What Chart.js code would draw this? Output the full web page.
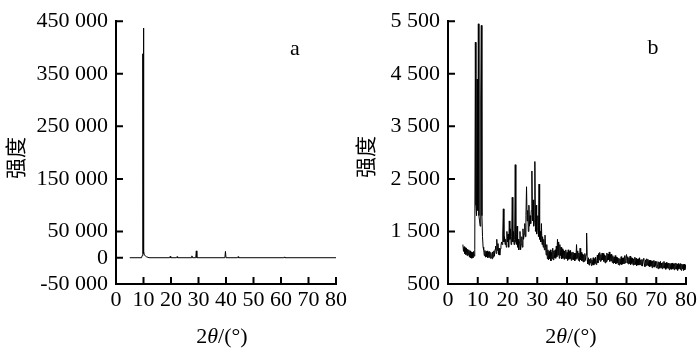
<!DOCTYPE html>
<html>
<head>
<meta charset="utf-8">
<script src="https://cdn.jsdelivr.net/npm/chart.js@4"></script>
<style>
  body { margin: 0; background: #fff; }
  .panel { position: absolute; top: 0; width: 350px; height: 350px; }
</style>
</head>
<body>
<div class="panel" style="left:0"><canvas id="chartA" width="350" height="350"></canvas></div>
<div class="panel" style="left:350px"><canvas id="chartB" width="350" height="350"></canvas></div>
<script>
// panel a: sharp peaks on a flat baseline
const aTheta = [5, 9.3, 9.5, 9.7, 9.8, 9.9, 10.0, 10.1, 10.3, 10.6, 11, 12,
    19.5, 19.7, 19.9, 22, 22.2, 22.4, 27.4, 27.6, 27.8, 29.0, 29.2, 29.4,
    39.6, 39.8, 40.0, 44.2, 44.4, 44.6, 61, 61.2, 61.4, 80];
const aIntensity = [0, 0, 4000, 15000, 388000, 8000, 437000, 12000, 5000, 4000, 2000, 0,
    0, 2500, 0, 0, 2000, 0, 0, 3500, 0, 0, 13000, 0,
    0, 12000, 0, 0, 2000, 0, 0, 1500, 0, 0];
const aTicks = [-50000, 0, 50000, 150000, 250000, 350000, 450000];

// panel b: noisy pattern, one reading every 0.2 degrees from 5 to 80
const bStart = 5;
const bStep = 0.2;
const bIntensity = [
    1250, 1120, 1210, 1080, 1190,   // 5
    1060, 1180, 1040, 1160, 1050,   // 6
    1150, 1010, 1130, 1000, 1110,   // 7
    990, 1100, 1000, 1120, 1030,    // 8
    1150, 5100, 2000, 1800, 4400,   // 9
    1900, 5450, 1800, 1700, 1600,   // 10
    4000, 5420, 1800, 1400, 1200,   // 11
    1150, 1040, 1140, 1010, 1120,   // 12
    1020, 1130, 1000, 1110, 1010,   // 13
    1120, 990, 1100, 1020, 980,     // 14
    1110, 1010, 1130, 1030, 1160,   // 15
    1220, 1080, 1350, 1140, 1270,   // 16
    1060, 1180, 1050, 1170, 1230,   // 17
    1300, 1250, 1450, 1930, 1300,   // 18
    1400, 1250, 1350, 1200, 1500,   // 19
    1300, 1450, 1200, 1700, 1350,   // 20
    1550, 1250, 1400, 2150, 1300,   // 21
    1500, 1250, 1350, 2770, 1300,   // 22
    1250, 1600, 1200, 1350, 1150,   // 23
    1300, 1500, 1150, 1250, 1400,   // 24
    1200, 1550, 1350, 1450, 1650,   // 25
    1400, 1800, 2350, 1700, 1900,   // 26
    1500, 2000, 1600, 1800, 1650,   // 27
    1900, 2650, 1700, 2100, 1600,   // 28
    1700, 2830, 1500, 2000, 1450,   // 29
    1550, 1800, 1400, 2400, 1350,   // 30
    1500, 1300, 1650, 1250, 1400,   // 31
    1200, 1350, 1150, 1430, 1200,   // 32
    1050, 1250, 980, 1150, 960,     // 33
    1120, 980, 1150, 940, 1100,     // 34
    980, 1180, 960, 1130, 1000,     // 35
    1150, 990, 1220, 1020, 1350,    // 36
    1050, 1300, 990, 1250, 1040,    // 37
    1200, 980, 1170, 990, 1140,     // 38
    970, 1130, 990, 1150, 980,      // 39
    1100, 950, 1150, 970, 1120,     // 40
    980, 1140, 950, 1100, 970,      // 41
    1110, 960, 1090, 940, 1080,     // 42
    970, 1250, 990, 1130, 950,      // 43
    1090, 930, 1180, 960, 1100,     // 44
    940, 1070, 920, 1060, 930,      // 45
    1080, 950, 1050, 1470, 960,     // 46
    880, 1000, 860, 970, 900,       // 47
    990, 850, 960, 870, 1000,       // 48
    860, 980, 890, 1010, 870,       // 49
    940, 1050, 900, 1080, 960,      // 50
    1100, 930, 1060, 950, 1090,     // 51
    960, 1080, 930, 1050, 900,      // 52
    1040, 920, 1090, 950, 1070,     // 53
    960, 1110, 930, 1060, 940,      // 54
    1070, 910, 1040, 890, 1010,     // 55
    900, 1040, 880, 1010, 900,      // 56
    1000, 870, 990, 860, 980,       // 57
    880, 1020, 870, 990, 880,       // 58
    1000, 890, 1040, 900, 1010,     // 59
    1060, 900, 1020, 880, 1000,     // 60
    890, 1030, 870, 1000, 890,      // 61
    990, 860, 980, 870, 1010,       // 62
    870, 990, 850, 970, 860,        // 63
    980, 860, 1000, 870, 960,       // 64
    850, 970, 840, 950, 990,        // 65
    880, 830, 960, 850, 980,        // 66
    860, 970, 840, 950, 830,        // 67
    950, 840, 930, 810, 940,        // 68
    830, 950, 820, 930, 850,        // 69
    810, 930, 840, 790, 920,        // 70
    910, 800, 930, 810, 900,        // 71
    790, 910, 810, 930, 800,        // 72
    900, 780, 910, 800, 890,        // 73
    800, 900, 770, 890, 790,        // 74
    890, 780, 900, 790, 880,        // 75
    770, 890, 790, 900, 780,        // 76
    880, 760, 890, 790, 870,        // 77
    780, 890, 760, 880, 790,        // 78
    870, 760, 880, 770, 860,        // 79
    790                             // 80
];
const bTicks = [500, 1500, 2500, 3500, 4500, 5500];

const SERIF = "'Liberation Serif', 'Times New Roman', serif";

function spaced(v) {
    return String(v).replace(/\B(?=(\d{3})+(?!\d))/g, ' ');
}

// inward ticks, axis titles and the panel letter
const decorations = {
    id: 'decorations',
    afterDraw(chart, args, opts) {
        const ctx = chart.ctx;
        const area = chart.chartArea;
        const xs = chart.scales.x, ys = chart.scales.y;
        ctx.save();
        ctx.strokeStyle = '#000';
        ctx.lineWidth = 2;
        ctx.beginPath();
        xs.ticks.forEach(t => {
            const px = xs.getPixelForValue(t.value);
            ctx.moveTo(px, area.bottom);
            ctx.lineTo(px, area.bottom - 7);
        });
        ys.ticks.forEach(t => {
            const py = ys.getPixelForValue(t.value);
            ctx.moveTo(area.left, py);
            ctx.lineTo(area.left + 7, py);
        });
        ctx.stroke();

        ctx.fillStyle = '#000';
        ctx.textBaseline = 'middle';

        // 2θ/(°)
        const parts = [['2', '22px ' + SERIF], ['θ', 'italic 22px ' + SERIF], ['/(°)', '22px ' + SERIF]];
        let total = 0;
        parts.forEach(p => { ctx.font = p[1]; total += ctx.measureText(p[0]).width; });
        let x = opts.xTitleX - total / 2;
        ctx.textAlign = 'left';
        parts.forEach(p => {
            ctx.font = p[1];
            ctx.fillText(p[0], x, opts.xTitleY);
            x += ctx.measureText(p[0]).width;
        });

        // 强度
        ctx.save();
        ctx.translate(opts.yTitleX, opts.yTitleY);
        ctx.rotate(-Math.PI / 2);
        ctx.textAlign = 'center';
        ctx.font = "21px 'Noto Sans CJK SC'";
        ctx.fillText('强度', 0, 0);
        ctx.restore();

        ctx.textAlign = 'center';
        ctx.font = '22px ' + SERIF;
        ctx.fillText(opts.letter, opts.letterX, opts.letterY);
        ctx.restore();
    }
};

function makeChart(id, points, yMin, yMax, yTicks, yWidth, padRight, deco) {
    const ctx = document.getElementById(id).getContext('2d');
    return new Chart(ctx, {
        type: 'line',
        data: {
            datasets: [{
                data: points,
                borderColor: '#000',
                borderWidth: 1,
                pointRadius: 0,
                tension: 0,
                fill: false
            }]
        },
        options: {
            responsive: false,
            animation: false,
            layout: { padding: { top: 15, right: padRight, left: 0, bottom: 0 } },
            plugins: {
                legend: { display: false },
                tooltip: { enabled: false },
                decorations: deco
            },
            scales: {
                x: {
                    type: 'linear',
                    min: 0,
                    max: 80,
                    grid: { drawOnChartArea: false, drawTicks: false, color: 'rgba(0,0,0,0)' },
                    border: { display: true, color: '#000', width: 2 },
                    ticks: {
                        stepSize: 10,
                        padding: 3,
                        color: '#000',
                        maxRotation: 0,
                        font: { family: SERIF, size: 22 }
                    },
                    afterFit: s => { s.height = 66; }
                },
                y: {
                    type: 'linear',
                    min: yMin,
                    max: yMax,
                    grid: { drawOnChartArea: false, drawTicks: false, color: 'rgba(0,0,0,0)' },
                    border: { display: true, color: '#000', width: 2 },
                    afterBuildTicks: s => { s.ticks = yTicks.map(v => ({ value: v })); },
                    ticks: {
                        padding: 8,
                        color: '#000',
                        font: { family: SERIF, size: 22 },
                        callback: v => spaced(v)
                    },
                    afterFit: s => { s.width = yWidth; }
                }
            }
        },
        plugins: [decorations]
    });
}

const aPoints = aTheta.map((t, i) => ({ x: t, y: aIntensity[i] }));
const bPoints = bIntensity.map((v, i) => ({ x: +(bStart + i * bStep).toFixed(1), y: v }));

makeChart('chartA', aPoints, -50000, 450000, aTicks, 116, 11,
    { letter: 'a', letterX: 295, letterY: 49, xTitleX: 222, xTitleY: 337, yTitleX: 15, yTitleY: 158 });
makeChart('chartB', bPoints, 500, 5500, bTicks, 98, 12,
    { letter: 'b', letterX: 303, letterY: 48, xTitleX: 221, xTitleY: 337, yTitleX: 15, yTitleY: 157 });
</script>
</body>
</html>
